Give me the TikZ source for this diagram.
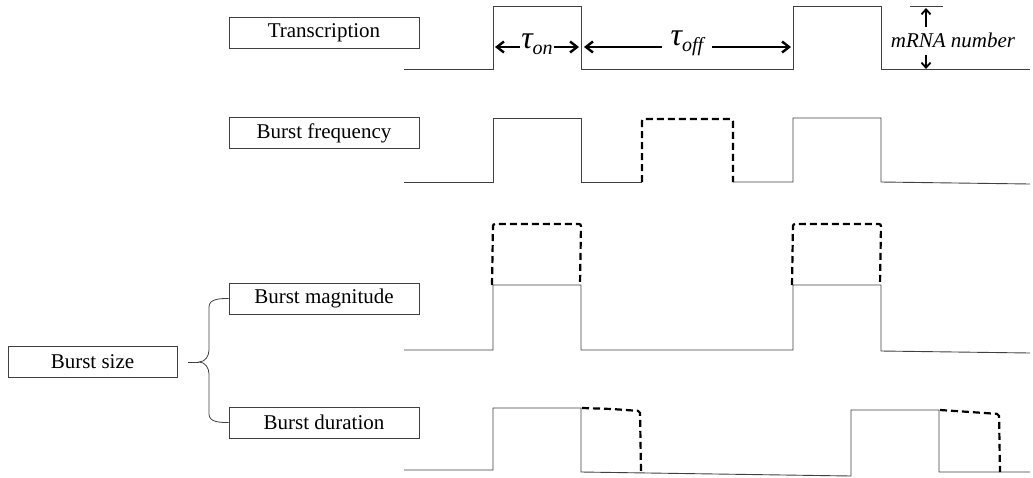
\documentclass[tikz,border=0pt]{standalone}
\usepackage{fontspec}
\setmainfont{Liberation Serif}
\usetikzlibrary{arrows.meta}
\newcommand{\tausub}[1]{τ\raisebox{-6pt}{\fontsize{20}{20}\selectfont #1}}
\begin{document}
\begin{tikzpicture}[x=1pt,y=-1pt,
  wave/.style={draw=black!75,line width=0.9pt},
  dwave/.style={draw=black,line width=2.2pt,dash pattern=on 7pt off 4pt,rounded corners=2pt},
  lbox/.style={draw=black!75,line width=0.8pt,minimum width=190pt,minimum height=31pt,inner sep=0pt,font=\fontsize{21}{25}\selectfont},
  tarrow/.style={line width=2.2pt,-{Straight Barb[length=7pt,width=11pt,line width=2.4pt]}},
  marrow/.style={line width=1.7pt,-{Straight Barb[length=5pt,width=9pt,line width=1.8pt]}},
  tlab/.style={font=\fontsize{32}{36}\selectfont\itshape},
  brace/.style={draw=black!75,line width=0.8pt}]
\useasboundingbox (0,0) rectangle (1033,477);
% label boxes
\node[lbox] (tr) at (324,33) {Transcription};
\node[lbox] (bf) at (324,133) {Burst frequency};
\node[lbox] (bm) at (324,298.5) {Burst magnitude};
\node[lbox] (bd) at (324,422.5) {Burst duration};
\node[lbox,minimum width=169pt] (bs) at (92.5,361.5) {Burst size};
% brace
\coordinate (tip) at (199,362);
\coordinate (stub) at (188,362);
\draw[brace] (bm.west) to[out=180,in=90] (209,307) -- (209,350) to[out=-90,in=0] (tip)
  to[out=0,in=90] (209,374) -- (209,414) to[out=-90,in=180] (bd.west);
\draw[brace] (stub) -- (tip);
% row 1: transcription
\draw[wave] (404,69) -- (493,69) -- (493,6) -- (581,6) -- (581,69) -- (793,69) -- (793,6) -- (881,6) -- (881,69) -- (1030,69);
\node[tlab,inner sep=1pt] (ton) at (537,44) {\tausub{on}};
\draw[tarrow] (ton.west |- 0,47) -- (495,47);
\draw[tarrow] (ton.east |- 0,47) -- (579,47);
\node[tlab,inner sep=9pt] (toff) at (687,43) {\tausub{off}};
\draw[tarrow] (toff.west |- 0,47) -- (584,47);
\draw[tarrow] (toff.east |- 0,47) -- (791,47);
\draw[black!75,line width=0.8pt] (910,6) -- (943,6);
\node[font=\fontsize{21}{25}\selectfont\itshape,inner sep=0pt] (mrna) at (953,40) {mRNA number};
\coordinate (mtop) at (926,8);
\coordinate (mbot) at (926,69);
\draw[marrow] (926,27) -- (mtop);
\draw[marrow] (926,55) -- (mbot);
% row 2: burst frequency
\draw[wave] (404,182) -- (493,182) -- (493,118) -- (581,118) -- (581,182) -- (642,182);
\draw[dwave] (642,182) -- (642,119) -- (733,119) -- (733,182);
\draw[wave] (733,182) -- (793,182) -- (793,118) -- (881,118) -- (881,182) -- (1030,184);
% row 3: burst magnitude
\draw[wave] (404,350) -- (493,350) -- (493,285) -- (581,285) -- (581,350) -- (793,350) -- (793,285) -- (881,285) -- (881,351) -- (1030,353);
\draw[dwave] (492,285) -- (493,224) -- (581,224) -- (580,285);
\draw[dwave] (792,285) -- (793,224) -- (881,224) -- (880,285);
% row 4: burst duration
\draw[wave] (404,470) -- (493,470) -- (493,408) -- (581,408) -- (581,472) -- (851,476) -- (851,410) -- (939,410) -- (939,472) -- (1030,472);
\draw[dwave] (582,408) -- (612,409) -- (640,411) -- (641,472);
\draw[dwave] (940,410) -- (970,412) -- (999,414) -- (1000,472);
\end{tikzpicture}
\end{document}
